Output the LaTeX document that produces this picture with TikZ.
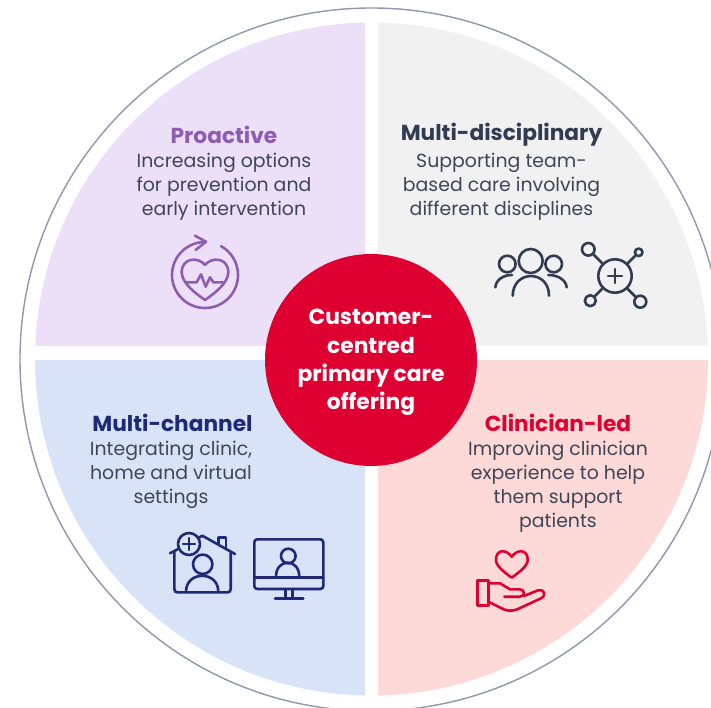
\documentclass[tikz,border=0pt]{standalone}
\usepackage{fontspec}
\setmainfont{Poppins}
\definecolor{lilac}{HTML}{ECE0F8}
\definecolor{greyq}{HTML}{F1F1F1}
\definecolor{blueq}{HTML}{D9E3F8}
\definecolor{pinkq}{HTML}{FDD9D7}
\definecolor{redc}{HTML}{DE0030}
\definecolor{purp}{HTML}{8E5CB0}
\definecolor{navy}{HTML}{1E2A78}
\definecolor{darkc}{HTML}{333B52}
\definecolor{bodyc}{HTML}{3F4557}
\definecolor{ringc}{HTML}{8F97B0}
\tikzset{
  bodytext/.style={align=center,text=bodyc,inner sep=0pt,font=\fontsize{18.9}{24}\selectfont},
  headtext/.style={inner sep=0pt,font=\fontsize{21.7}{24}\selectfont\bfseries},
  iconline/.style={line width=2.6pt,line cap=round,line join=round},
  ring/.style={circle,draw,inner sep=0pt,line width=2.6pt}
}
\begin{document}
\begin{tikzpicture}[x=1pt,y=-1pt]
\useasboundingbox (0,0) rectangle (711,708);
\begin{scope}
\clip (0,0) rectangle (711,708);
\draw[ringc,line width=1.4pt] (371.5,359.5) circle[radius=351.5pt];
\begin{scope}
\clip (371.5,359) circle[radius=336.5pt];
\fill[lilac] (20,0) rectangle (364.5,346);
\fill[greyq] (377.5,0) rectangle (720,346);
\fill[blueq] (20,359.5) rectangle (364.5,708);
\fill[pinkq] (377.5,359.5) rectangle (720,708);
\end{scope}
\end{scope}

\node[circle,fill=redc,minimum size=212pt,inner sep=0pt] (hub) at (371,360) {};
\node[align=center,text=white,inner sep=0pt,font=\fontsize{21.8}{28.4}\selectfont\bfseries] (hubtext) at (371,362.5) {Customer-\\centred\\primary care\\offering};

\node[headtext,text=purp] (h1) at (224,135) {Proactive};
\node[bodytext] (b1) at (224,187) {Increasing options\\for prevention and\\early intervention};
\node[headtext,text=darkc] (h2) at (501.5,135) {Multi-disciplinary};
\node[bodytext] (b2) at (501.5,187) {Supporting team-\\based care involving\\different disciplines};
\node[headtext,text=navy] (h3) at (172.5,423) {Multi-channel};
\node[bodytext] (b3) at (171,474.5) {Integrating clinic,\\home and virtual\\settings};
\node[headtext,text=redc] (h4) at (558,423) {Clinician-led};
\node[bodytext] (b4) at (558,487) {Improving clinician\\experience to help\\them support\\patients};

% heart icon
\begin{scope}[purp,iconline]
\draw plot[smooth,domain=-61:-90+360,samples=60,variable=\a] ({205+33*cos(\a)},{275+33*sin(\a)});
\draw (195,235.7) -- (206,241.7) -- (195.7,250);
\draw (205,265) .. controls (199,257) and (182,257) .. (181.7,272) .. controls (181.7,283) and (195,293) .. (205,300) .. controls (215,293) and (228.3,283) .. (228.3,272) .. controls (228,257) and (211,257) .. (205,265) -- cycle;
\draw (186,282.3) -- (196.7,282.3) -- (201,274.3) -- (205.7,286.7) -- (210,277.3) -- (213.3,282.3) -- (224,282.3);
\end{scope}

% people icon
\begin{scope}[darkc,iconline]
\draw (530.7,261) circle[radius=12pt];
\draw (507.3,264) circle[radius=8.3pt];
\draw (553.7,264) circle[radius=8.3pt];
\draw (512.7,295.7) .. controls (513,269.5) and (549,269.5) .. (549,295.7);
\draw (495.3,287.3) .. controls (496,280) and (503,275) .. (512,275);
\draw (548.3,275) .. controls (558,275) and (566,280) .. (566.7,287.3);
\end{scope}

% network icon
\begin{scope}[darkc,iconline]
\node[ring,minimum size=33.4pt] (nc) at (615,276) {};
\node[ring,minimum size=12.6pt] (ntl) at (588.3,249.3) {};
\node[ring,minimum size=7.6pt] (ntr) at (638.7,252.3) {};
\node[ring,minimum size=11pt] (nbl) at (590.3,300.7) {};
\node[ring,minimum size=12pt] (nbr) at (640.3,301.7) {};
\draw (nc) -- (ntl);
\draw (nc) -- (ntr);
\draw (nc) -- (nbl);
\draw (nc) -- (nbr);
\draw (608,276) -- (622,276);
\draw (615,269) -- (615,283);
\end{scope}

% house icon
\begin{scope}[navy,iconline]
\draw (170,553.3) -- (177.7,549.3);
\draw (198.3,538) -- (202.3,535.7) -- (235,554);
\draw (218.3,544) -- (218.3,537.3) -- (226,537.3) -- (226,548.3);
\draw (174.3,551.5) -- (174.3,589) .. controls (174.3,591.5) and (175.5,592.3) .. (177.5,592.3) -- (227.5,592.3) .. controls (229.5,592.3) and (230.7,591.5) .. (230.7,589) -- (230.7,552);
\draw (189,544) circle[radius=11pt];
\draw (183,544) -- (195,544);
\draw (189,538) -- (189,550);
\draw (202.7,564.3) circle[radius=9.7pt];
\draw (186,591.7) .. controls (186,570.5) and (218.3,570.5) .. (218.3,591.7);
\end{scope}

% monitor icon
\begin{scope}[navy,iconline]
\draw[rounded corners=3pt] (254.3,539.3) rectangle (323.3,589);
\draw (254.3,577.3) -- (323.3,577.3);
\draw (288.3,556) circle[radius=7.3pt];
\draw (276,576.7) .. controls (276,558) and (299.3,558) .. (299.3,576.7);
\draw (285.7,589) -- (285.7,598.3);
\draw (292.3,589) -- (292.3,598.3);
\draw (275,598.3) -- (303.3,598.3);
\end{scope}

% hand icon
\begin{scope}[redc,iconline]
\draw (511.7,556.7) .. controls (506,549) and (496,549) .. (496,560) .. controls (496,566) and (504,572) .. (511.7,577.7) .. controls (519.4,572) and (527.7,566) .. (527.7,560) .. controls (527.7,549) and (517.4,549) .. (511.7,556.7) -- cycle;
\draw (477.7,580.7) rectangle (488.3,605.7);
\draw (488.3,583.3) -- (500,583.3) -- (510,589.3) -- (520,589.3) .. controls (525,589.3) and (525.5,596.7) .. (520,596.7) -- (504.3,596.7);
\draw (524,596) -- (538,590.3) .. controls (544,588.5) and (547,595.5) .. (541,598.3) -- (518,609) .. controls (510,612) and (506,610.5) .. (501.7,608.3) -- (488.3,601.7);
\end{scope}
\end{tikzpicture}
\end{document}
